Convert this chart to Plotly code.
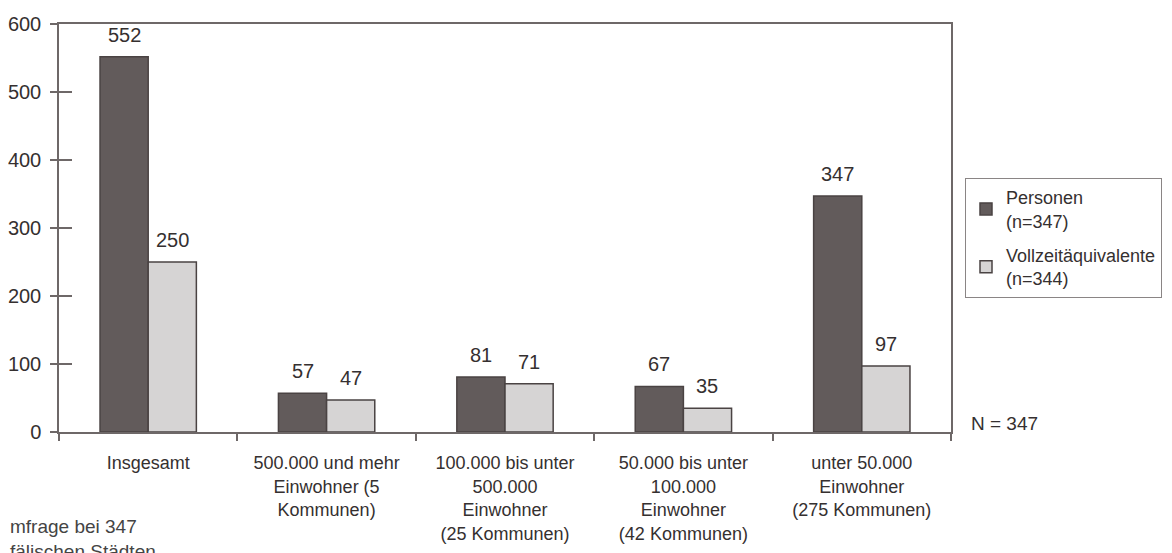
import plotly.graph_objects as go

categories = [
    "Insgesamt",
    "500.000 und mehr<br>Einwohner (5<br>Kommunen)",
    "100.000 bis unter<br>500.000<br>Einwohner<br>(25 Kommunen)",
    "50.000 bis unter<br>100.000<br>Einwohner<br>(42 Kommunen)",
    "unter 50.000<br>Einwohner<br>(275 Kommunen)",
]
personen = [552, 57, 81, 67, 347]
vollzeit = [250, 47, 71, 35, 97]
series_names = ["Personen<br>(n=347)", "Vollzeitäquivalente<br>(n=344)"]
y_ticks = [0, 100, 200, 300, 400, 500, 600]

FONT = "Liberation Sans, Arial, Helvetica, sans-serif"
TXT = "#353030"
AX = "#6e6868"

# page body has an 8px margin: compensate so the plot area lands where the reference has it
OFF = 8
fig = go.Figure()
fig.add_trace(go.Bar(
    x=categories, y=personen, name=series_names[0], legendgroup="a",
    marker=dict(color="#625b5b", line=dict(color="#4a4343", width=1.5)),
))
fig.add_trace(go.Bar(
    x=categories, y=vollzeit, name=series_names[1], legendgroup="b",
    marker=dict(color="#d6d4d4", line=dict(color="#4a4343", width=1.5)),
))
# invisible helper trace for inside tick marks on the value axis
fig.add_trace(go.Scatter(x=[categories[0]], y=[0], yaxis="y2", mode="markers",
                         marker=dict(opacity=0), showlegend=False, hoverinfo="skip"))

annotations = []
for cat, val in zip(categories, personen):
    annotations.append(dict(x=cat, y=val, text=str(val), xref="x", yref="y",
                            xshift=-24, yshift=9, yanchor="bottom", showarrow=False,
                            font=dict(size=20, color=TXT)))
for cat, val in zip(categories, vollzeit):
    annotations.append(dict(x=cat, y=val, text=str(val), xref="x", yref="y",
                            xshift=24, yshift=9, yanchor="bottom", showarrow=False,
                            font=dict(size=20, color=TXT)))
annotations += [
    dict(text="N = 347", xref="paper", yref="paper", x=1.02, y=0.02,
         xanchor="left", yanchor="middle", showarrow=False,
         font=dict(size=19, color=TXT)),
    dict(text="mfrage bei 347<br>fälischen Städten", xref="paper", yref="paper",
         x=-51 / 892, y=(432 - 514) / 408, xanchor="left", yanchor="top",
         align="left", showarrow=False, font=dict(size=19, color="#444444")),
]

fig.update_layout(
    width=1172, height=553,
    margin=dict(l=59 - OFF, r=221 + OFF, t=24 - OFF, b=121 + OFF),
    paper_bgcolor="white", plot_bgcolor="white",
    font=dict(family=FONT, size=18, color=TXT),
    barmode="group", bargap=0.46, bargroupgap=0,
    xaxis=dict(
        type="category", tickson="boundaries", ticks="outside", ticklen=7,
        tickcolor=AX, tickwidth=1.5, showline=True, linecolor=AX, linewidth=1.5,
        mirror=True, showgrid=False, tickfont=dict(size=18, color=TXT),
        ticklabelstandoff=14, automargin=False,
    ),
    yaxis=dict(
        range=[0, 600], tickvals=y_ticks, ticks="outside", ticklen=7,
        tickcolor=AX, tickwidth=1.5, showline=True, linecolor=AX, linewidth=1.5,
        mirror=True, showgrid=False, zeroline=False, tickfont=dict(size=20, color=TXT),
        ticklabelstandoff=5, automargin=False,
    ),
    yaxis2=dict(
        overlaying="y", side="left", range=[0, 600], tickvals=y_ticks,
        ticks="inside", ticklen=13, tickcolor=AX, tickwidth=1.5,
        showticklabels=False, showgrid=False, zeroline=False, showline=False,
        automargin=False,
    ),
    legend=dict(
        x=(965 - 59) / 892, y=(432 - 178) / 408, xanchor="left", yanchor="top",
        bordercolor="#8a8585", borderwidth=1, bgcolor="white",
        font=dict(size=18, color=TXT), itemwidth=30, tracegroupgap=8,
        traceorder="grouped",
    ),
    showlegend=True,
    annotations=annotations,
)

fig.write_html("out.html")
